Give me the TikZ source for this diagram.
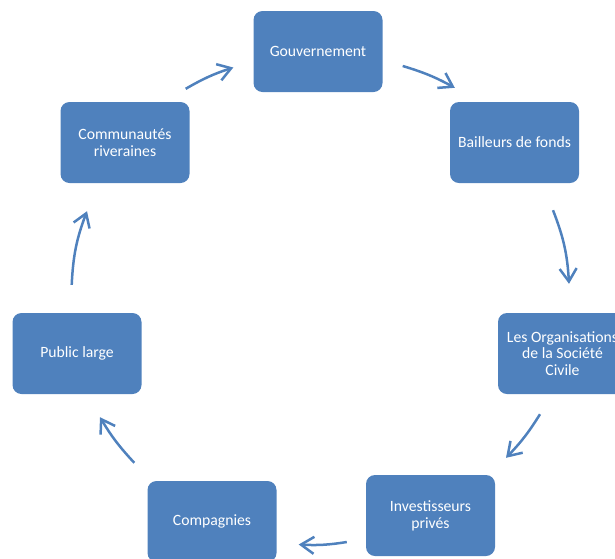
\documentclass[tikz,border=0pt]{standalone}
\usepackage{fontspec}
\setmainfont{Carlito}
\usetikzlibrary{arrows.meta,calc}
\definecolor{boxblue}{HTML}{4F81BD}
\begin{document}
\begin{tikzpicture}[x=1pt,y=-1pt,
  box/.style={fill=boxblue, draw=none, rounded corners=9pt, minimum width=129pt, minimum height=81pt, inner sep=2pt, text=white, align=center, font=\fontsize{15.7}{16.7}\selectfont},
  flow/.style={draw=boxblue, line width=2.5pt, -{Straight Barb[length=13pt,width=17pt]}}]
\clip (0,0) rectangle (615,558);
\node[box] (gouv) at (318,51.5) {Gouvernement};
\node[box] (bail) at (514.5,142.5) {Bailleurs de fonds};
\node[box] (org) at (562.5,353.5) {Les Organisations\\de la Société\\Civile};
\node[box] (inv) at (430.5,515.5) {Investisseurs\\privés};
\node[box] (comp) at (212,521.5) {Compagnies};
\node[box] (pub) at (77,353.5) {Public large};
\node[box] (comm) at (125,142.5) {Communautés\\riveraines};
\coordinate (a1s) at ($(comm.north east)+(-4,-13)$);
\coordinate (a1e) at ($(gouv.west)+(-20,16)$);
\coordinate (a2s) at ($(gouv.east)+(20,14.5)$);
\coordinate (a2e) at ($(bail.north west)+(5,-14)$);
\coordinate (a3s) at ($(bail.south)+(38.5,27)$);
\coordinate (a3e) at ($(org.north)+(6.5,-29)$);
\coordinate (a4s) at ($(org.south)+(-22.5,20)$);
\coordinate (a4e) at ($(inv.north)+(75.5,-17)$);
\coordinate (a5s) at ($(inv.west)+(-19,26.5)$);
\coordinate (a5e) at ($(comp.east)+(22,23)$);
\coordinate (a6s) at ($(comp.north west)+(-13,-18)$);
\coordinate (a6e) at ($(pub.south)+(23,23)$);
\coordinate (a7s) at ($(pub.north)+(-5.3,-28)$);
\coordinate (a7e) at ($(comm.south)+(-38,28)$);
\draw[flow] (a1s) to[bend left=6] (a1e);
\draw[flow] (a2s) to[bend left=6] (a2e);
\draw[flow] (a3s) to[bend left=9] (a3e);
\draw[flow] (a4s) to[bend left=6] (a4e);
\draw[flow] (a5s) to[bend left=6] (a5e);
\draw[flow] (a6s) to[bend left=6] (a6e);
\draw[flow] (a7s) to[bend left=9] (a7e);
\end{tikzpicture}
\end{document}
